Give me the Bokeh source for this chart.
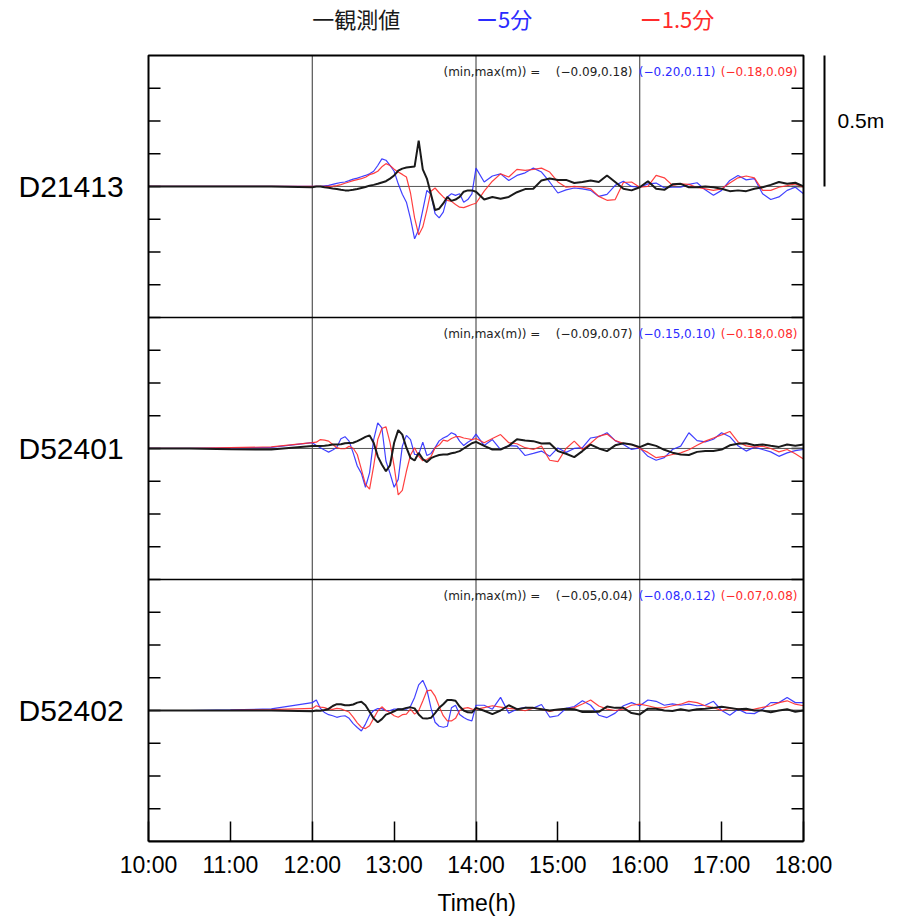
from bokeh.plotting import figure
from bokeh.models import Range1d, FixedTicker, Label, BoxAnnotation, Title
from bokeh.embed import file_html
from bokeh.resources import INLINE

# ---------------- data ----------------
T = [10.0, 10.5, 11.0, 11.5,
     12.0, 12.05, 12.1, 12.15, 12.2, 12.25, 12.3, 12.35, 12.4, 12.45,
     12.5, 12.55, 12.6, 12.65, 12.7, 12.75, 12.8, 12.85, 12.9, 12.95,
     13.0, 13.05, 13.1, 13.15, 13.2, 13.25, 13.3, 13.35, 13.4, 13.45,
     13.5, 13.55, 13.6, 13.65, 13.7, 13.75, 13.8, 13.85, 13.9, 13.95,
     14.0,
     14.1, 14.2, 14.3, 14.4, 14.5, 14.6, 14.7, 14.8, 14.9, 15.0,
     15.1, 15.2, 15.3, 15.4, 15.5, 15.6, 15.7, 15.8, 15.9, 16.0,
     16.1, 16.2, 16.3, 16.4, 16.5, 16.6, 16.7, 16.8, 16.9, 17.0,
     17.1, 17.2, 17.3, 17.4, 17.5, 17.6, 17.7, 17.8, 17.9, 18.0]

stations = ["D21413", "D52401", "D52402"]

# D21413
obs_D21413 = [0, 0, 0, 0,
    -0.003, 0, 0, -0.003, -0.005, -0.008, -0.01, -0.013, -0.015, -0.015,
    -0.013, -0.01, -0.006, -0.002, 0.003, 0.006, 0.01, 0.015, 0.02, 0.03,
    0.042, 0.06, 0.068, 0.072, 0.074, 0.076, 0.175, 0.065, 0.03, -0.03,
    -0.09, -0.085, -0.065, -0.04, -0.055, -0.05, -0.04, -0.02, -0.015, -0.015,
    -0.02,
    -0.05, -0.04, -0.047, -0.04, -0.022, -0.01, -0.009, 0.023, 0.03, 0.025,
    0.025, 0.013, 0.017, 0.023, 0.017, 0.042, 0.017, -0.009, -0.015, -0.003,
    0.02, -0.009, -0.013, 0.008, 0.01, -0.003, -0.003, 0, -0.003, -0.009,
    -0.018, -0.015, -0.018, -0.009, -0.003, 0.006, 0.017, 0.01, 0.014, 0]
m5_D21413 = [0, 0, 0, 0,
    0, 0, 0, 0.002, 0.004, 0.008, 0.012, 0.015, 0.017, 0.022,
    0.028, 0.032, 0.037, 0.042, 0.048, 0.058, 0.08, 0.105, 0.1, 0.08,
    0.058, 0.01, -0.03, -0.06, -0.123, -0.2, -0.165, -0.09, -0.015, -0.03,
    -0.104, -0.12, -0.098, -0.04, -0.028, -0.034, -0.028, -0.06, -0.05, -0.028,
    0.07,
    0.017, 0.04, 0.048, 0.023, 0.042, 0.052, 0.07, 0.055, 0.017, -0.025,
    -0.013, -0.006, -0.009, -0.015, -0.038, -0.03, 0.004, 0.02, 0, -0.003,
    0.01, 0.013, -0.005, -0.003, -0.003, 0.008, 0.014, -0.013, -0.034, -0.015,
    0.023, 0.042, 0.025, 0.03, -0.028, -0.05, -0.04, -0.015, -0.003, -0.028]
m15_D21413 = [0, 0, 0, 0,
    0, 0, 0, 0, 0, 0.001, 0.003, 0.007, 0.012, 0.017,
    0.022, 0.026, 0.03, 0.035, 0.045, 0.05, 0.058, 0.075, 0.087, 0.08,
    0.066, 0.055, 0.046, 0.036, -0.025, -0.12, -0.185, -0.155, -0.09, -0.018,
    -0.006, -0.024, -0.04, -0.053, -0.057, -0.069, -0.079, -0.081, -0.075, -0.069,
    -0.064,
    -0.018, 0.02, 0.048, 0.036, 0.065, 0.061, 0.065, 0.07, 0.055, 0.017,
    -0.003, 0, -0.003, -0.009, -0.038, -0.053, -0.05, 0.015, 0.017, -0.003,
    0, 0.042, 0.033, 0.004, 0.01, 0.008, -0.004, -0.009, -0.015, -0.009,
    0.013, 0.033, 0.04, 0.033, -0.015, -0.015, -0.003, 0.003, 0.01, -0.003]

# D52401
obs_D52401 = [0, 0, -0.003, -0.004,
    0.009, 0.009, 0.009, 0.01, 0.012, 0.015, 0.015, 0.016, 0.02, 0.021,
    0.022, 0.028, 0.036, 0.044, 0.05, 0.022, -0.03, -0.061, -0.087, -0.064,
    0.022, 0.07, 0.053, 0.003, -0.036, -0.046, -0.017, -0.04, -0.052, -0.037,
    -0.03, -0.025, -0.023, -0.023, -0.018, -0.015, -0.01, 0.0, 0.01, 0.02,
    0.025,
    0.01, -0.004, -0.004, 0.01, 0.035, 0.03, 0.028, 0.019, 0.02, -0.01,
    -0.02, -0.033, -0.01, 0.015, 0.0, -0.01, 0.012, 0.02, 0.015, 0.005,
    0.018, 0.01, -0.005, -0.016, -0.023, -0.025, -0.013, -0.01, -0.01, -0.004,
    0.012, 0.018, 0.02, 0.012, 0.015, 0.01, 0.006, 0.015, 0.01, 0.015]
m5_D52401 = [0, 0, 0.002, 0.004,
    0.022, 0.011, 0.003, -0.006, -0.014, -0.006, 0.005, 0.037, 0.045, 0.028,
    -0.017, -0.067, -0.095, -0.148, -0.093, 0.034, 0.098, 0.079, -0.048, -0.095,
    -0.148, -0.118, 0.009, 0.05, 0.034, -0.023, -0.023, 0.024, -0.027, -0.019,
    0.003, 0.029, 0.04, 0.047, 0.06, 0.053, 0.028, 0.011, 0.024, 0.033,
    0.055,
    0.011, 0.034, -0.004, 0.011, 0.009, -0.027, -0.019, -0.01, -0.03, 0.002,
    -0.015, 0.0, 0.003, 0.04, 0.045, 0.06, 0.03, 0.015, -0.004, 0.002,
    -0.03, -0.045, -0.035, -0.004, 0.009, 0.06, 0.03, 0.025, 0.035, 0.06,
    0.045, 0.01, -0.01, 0.005, -0.004, -0.013, -0.03, -0.017, -0.008, -0.004]
m15_D52401 = [0, 0, 0.003, 0.006,
    0.022, 0.024, 0.034, 0.032, 0.028, 0.015, 0.003, -0.001, -0.001, 0.008,
    0.001, -0.023, -0.08, -0.137, -0.155, -0.067, 0.034, 0.076, 0.083, 0.022,
    -0.067, -0.177, -0.16, -0.087, -0.025, 0.003, -0.029, -0.047, -0.042, -0.032,
    0.003, 0.013, 0.032, 0.028, 0.038, 0.045, 0.045, 0.04, 0.037, 0.034,
    0.038,
    0.022, 0.038, 0.053, 0.022, 0.018, 0.003, -0.004, 0.009, -0.045, -0.05,
    0.0, 0.028, -0.004, 0.02, 0.047, 0.055, 0.03, 0.02, 0.015, 0.0,
    -0.015, -0.035, -0.03, -0.023, -0.017, -0.005, 0.012, 0.028, 0.04, 0.052,
    0.065, 0.025, 0.01, 0.005, 0.009, 0.0, -0.013, -0.004, -0.02, -0.04]

# D52402
obs_D52402 = [0, 0, 0, 0,
    -0.003, 0.0, -0.001, 0.002, 0.006, 0.017, 0.024, 0.024, 0.02, 0.02,
    0.023, 0.03, 0.033, 0.02, -0.005, -0.03, -0.045, -0.033, -0.016, -0.01,
    -0.003, 0.005, 0.005, 0.01, 0.012, 0.008, -0.015, -0.03, -0.031, -0.028,
    -0.01, 0.01, 0.024, 0.04, 0.04, 0.037, 0.015, 0.0, -0.007, -0.008,
    0.01,
    -0.001, -0.014, 0.0, 0.02, 0.005, 0.01, 0.01, 0.005, 0.0, 0.004,
    0.007, 0.005, -0.006, -0.006, -0.005, 0.015, 0.01, 0.01, -0.01, -0.015,
    0.007, 0.007, 0.0, -0.002, 0.005, -0.001, 0.005, 0.007, 0.01, 0.014,
    0.01, 0.005, 0.007, 0.0, 0.0, -0.007, 0.0, 0.005, -0.005, 0.0]
m5_D52402 = [0, 0, 0.002, 0.006,
    0.03, 0.04, 0.008, -0.008, -0.016, -0.02, -0.026, -0.022, -0.02, -0.03,
    -0.05, -0.065, -0.078, -0.052, -0.018, 0.0, 0.007, 0.007, -0.001, 0.0,
    0.005, 0.005, 0.005, 0.005, 0.016, 0.05, 0.098, 0.115, 0.08, 0.01,
    -0.045, -0.06, -0.064, -0.06, 0.01, 0.02, -0.015, -0.027, -0.035, -0.04,
    0.02,
    0.02, 0.005, 0.05, -0.01, 0.005, 0.012, 0.009, 0.023, -0.025, -0.02,
    0.008, 0.015, 0.037, 0.02, -0.018, -0.027, -0.01, 0.018, 0.03, 0.018,
    0.04, 0.035, 0.02, 0.025, 0.02, 0.024, 0.018, 0.02, 0.035, 0.0,
    -0.018, 0.005, -0.01, -0.012, 0.005, 0.03, 0.03, 0.05, 0.03, 0.03]
m15_D52402 = [0, 0, 0.001, 0.003,
    0.008, 0.018, 0.013, 0.011, 0.005, 0.004, 0.008, 0.006, 0.0, -0.006,
    -0.025, -0.047, -0.064, -0.069, -0.058, -0.03, -0.002, 0.014, 0.0, -0.008,
    -0.02, -0.026, -0.016, -0.014, 0.005, -0.014, -0.001, 0.036, 0.075, 0.078,
    0.055, 0.015, -0.02, -0.04, -0.04, -0.03, 0.0, 0.008, 0.011, 0.005,
    0.004,
    0.011, 0.018, 0.013, 0.008, 0.005, -0.001, 0.009, 0.005, -0.004, 0.003,
    0.005, 0.011, 0.025, 0.04, 0.017, 0.005, 0.0, 0.005, 0.02, 0.024,
    0.018, 0.01, 0.011, 0.018, 0.024, 0.035, 0.03, 0.018, 0.011, 0.0,
    0.008, 0.006, 0.0, 0.005, 0.012, 0.018, 0.03, 0.037, 0.024, 0.018]

obs_series = [obs_D21413, obs_D52401, obs_D52402]
m5_series = [m5_D21413, m5_D52401, m5_D52402]
m15_series = [m15_D21413, m15_D52401, m15_D52402]

minmax_obs = ["(\u22120.09,0.18)", "(\u22120.09,0.07)", "(\u22120.05,0.04)"]
minmax_5 = ["(\u22120.20,0.11)", "(\u22120.15,0.10)", "(\u22120.08,0.12)"]
minmax_15 = ["(\u22120.18,0.09)", "(\u22120.18,0.08)", "(\u22120.07,0.08)"]

hour_ticks = [10, 11, 12, 13, 14, 15, 16, 17, 18]
hour_labels = ["10:00", "11:00", "12:00", "13:00", "14:00", "15:00", "16:00", "17:00", "18:00"]
grid_hours = [12, 14, 16]

legend_texts = ["\u4e00\u89b3\u6e2c\u5024", "\u30fc5\u5206", "\u30fc1.5\u5206"]
scale_text = "0.5m"
scale_len = 0.5

# ---------------- layout ----------------
W, H = 904, 922
PL, PR, PT, PB = 148, 803, 55, 842      # panel box in pixels
BOT = H - PB
X0, X1 = 10.0, 18.0                     # hours shown in the panels
Y0, Y1 = -2.5, 0.5                      # three panels of +-0.5 m
sx = (PR - PL) / (X1 - X0)
sy = (PB - PT) / (Y1 - Y0)


def px_x(px):
    return X0 + (px - PL) / sx


def px_y(py):
    return Y1 - (py - PT) / sy


BLACK = "#1a1a1a"
BLUE = "#2b2bff"
RED = "#ff2b2b"
FONT = "Liberation Sans"

p = figure(width=W, height=H, output_backend="svg", toolbar_location=None,
           x_range=Range1d(px_x(0), px_x(W)), y_range=Range1d(Y0, px_y(0)),
           min_border_left=0, min_border_right=0, min_border_top=0,
           min_border_bottom=BOT, y_axis_location=None)
p.outline_line_color = None
p.background_fill_color = "white"
p.border_fill_color = "white"
p.grid.visible = False

# bottom axis (limited to the panel width)
xa = p.xaxis[0]
xa.bounds = (X0, X1)
xa.ticker = FixedTicker(ticks=hour_ticks)
xa.major_label_overrides = {h: s for h, s in zip(hour_ticks, hour_labels)}
xa.major_tick_in = 20
xa.major_tick_out = 0
xa.minor_tick_line_color = None
xa.major_tick_line_width = 1.5
xa.axis_line_width = 2
xa.major_label_text_font = FONT
xa.major_label_text_font_size = "23px"
xa.major_label_text_color = "black"
xa.major_label_standoff = 10

# axis title, centred under the panels
xtitle = Title(text="Time(h)", align="left", offset=437, text_font=FONT,
               text_font_size="23px", text_font_style="normal",
               text_color="black", standoff=14)
p.add_layout(xtitle, "below")

# vertical grid lines at 12, 14, 16
p.segment(x0=grid_hours, y0=[Y0] * len(grid_hours), x1=grid_hours,
          y1=[Y1] * len(grid_hours), line_color="#333333", line_width=1)

# inward ticks on left and right edges every 0.125 m
yt = [Y0 + k * 0.125 for k in range(1, 24)]
tick = 12 / sx
p.segment(x0=[X0] * len(yt), y0=yt, x1=[X0 + tick] * len(yt), y1=yt,
          line_color="black", line_width=1.5)
p.segment(x0=[X1 - tick] * len(yt), y0=yt, x1=[X1] * len(yt), y1=yt,
          line_color="black", line_width=1.5)

# zero lines and separators
offsets = [-float(i) for i in range(len(stations))]
p.segment(x0=[X0] * 3, y0=offsets, x1=[X1] * 3, y1=offsets,
          line_color="#555555", line_width=1)
seps = [o - 0.5 for o in offsets[:-1]]
p.segment(x0=[X0] * len(seps), y0=seps, x1=[X1] * len(seps), y1=seps,
          line_color="black", line_width=1.5)

# series
for i, name in enumerate(stations):
    off = offsets[i]
    p.line(T, [v + off for v in m5_series[i]], line_color=BLUE, line_width=1.2, line_alpha=0.9)
    p.line(T, [v + off for v in m15_series[i]], line_color=RED, line_width=1.2, line_alpha=0.9)
    p.line(T, [v + off for v in obs_series[i]], line_color=BLACK, line_width=2)

    p.add_layout(Label(x=px_x(18), y=off, text=name, text_font=FONT,
                       text_font_size="30px", text_baseline="middle",
                       text_align="left", text_color="black"))
    ty = off + 0.5 - 17 / sy
    small = dict(text_font="DejaVu Sans", text_font_size="12px", text_baseline="middle")
    p.add_layout(Label(x=px_x(443), y=ty, text="(min,max(m)) =", text_align="left",
                       text_color="#222222", **small))
    p.add_layout(Label(x=px_x(632), y=ty, text=minmax_obs[i], text_align="right",
                       text_color="#222222", **small))
    p.add_layout(Label(x=px_x(715), y=ty, text=minmax_5[i], text_align="right",
                       text_color=BLUE, **small))
    p.add_layout(Label(x=px_x(797), y=ty, text=minmax_15[i], text_align="right",
                       text_color=RED, **small))

# panel box
p.add_layout(BoxAnnotation(left=X0, right=X1, bottom=Y0, top=Y1, fill_color=None,
                           fill_alpha=0, line_color="black", line_alpha=1.0,
                           line_width=2))

# scale bar 0.5 m
p.segment(x0=[px_x(824)], y0=[0.0], x1=[px_x(824)], y1=[scale_len],
          line_color="black", line_width=2)
p.add_layout(Label(x=px_x(837), y=scale_len / 2, text=scale_text, text_font=FONT,
                   text_font_size="21px", text_baseline="middle",
                   text_align="left", text_color="black"))

# legend at the top
for txt, col, hx in zip(legend_texts, [BLACK, BLUE, RED], grid_hours):
    p.add_layout(Label(x=hx, y=px_y(18), text=txt, text_font="Noto Sans CJK JP",
                       text_font_size="22px", text_baseline="middle",
                       text_align="left", text_color=col))

open("out.html", "w").write(file_html(p, INLINE))
